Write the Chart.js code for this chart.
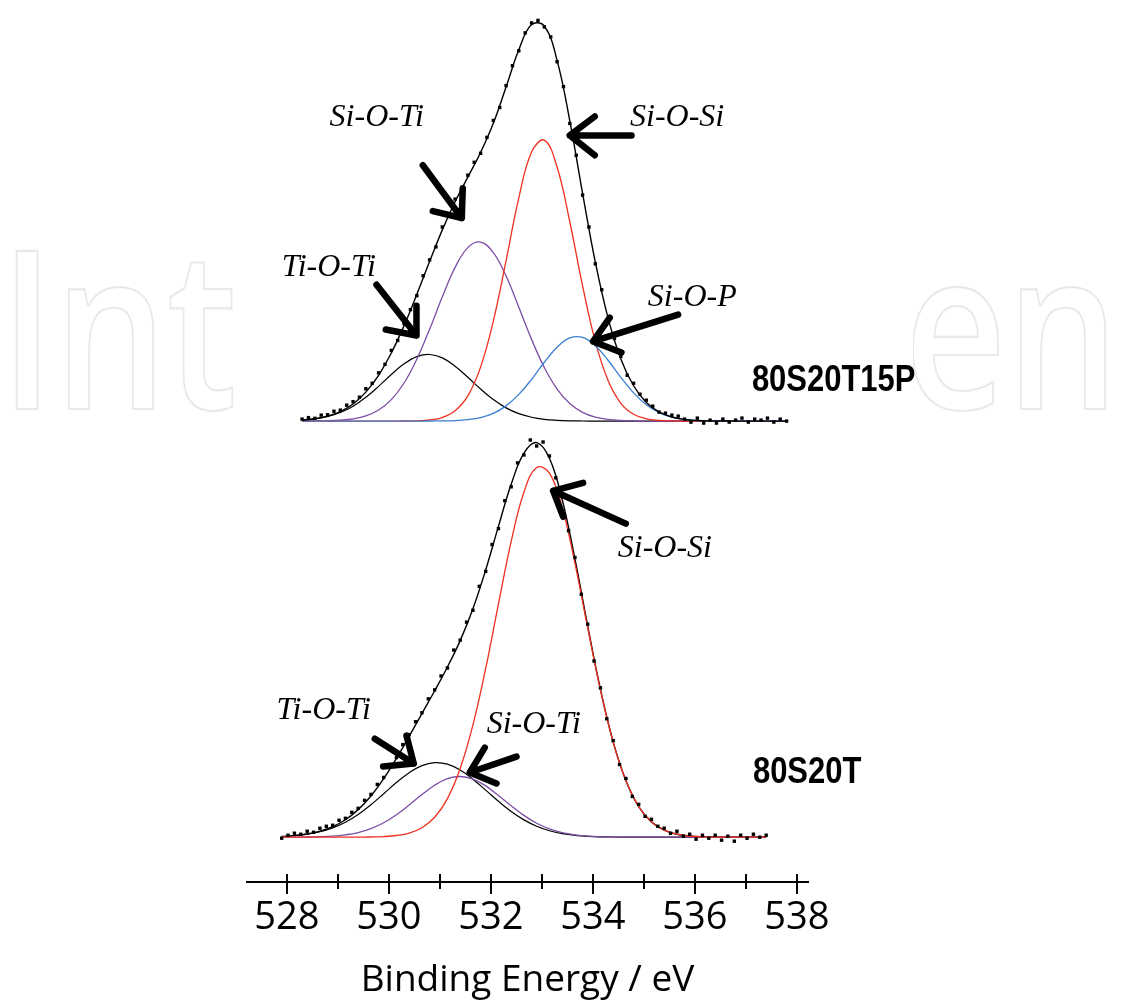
<!DOCTYPE html>
<html>
<head>
<meta charset="utf-8">
<script src="https://cdn.jsdelivr.net/npm/chart.js@4.4.1/dist/chart.umd.min.js"></script>
<style>
  html, body { margin: 0; background: #fff; }
  canvas { display: block; }
</style>
</head>
<body>
<canvas id="xps" width="1143" height="1004"></canvas>
<script>
// O 1s spectra, intensity in arbitrary units (each panel from its own baseline)
const energyTop = [528.30, 528.55, 528.80, 529.05, 529.30, 529.55, 529.80, 530.05, 530.30, 530.55,
  530.80, 531.05, 531.30, 531.55, 531.80, 532.05, 532.30, 532.55, 532.80, 533.05,
  533.30, 533.55, 533.80, 534.05, 534.30, 534.55, 534.80, 535.05, 535.30, 535.55,
  535.80, 536.05, 536.30, 536.55, 536.80, 537.05, 537.30, 537.55, 537.80];
const tiOTiTop = [1.0, 2.2, 4.6, 8.7, 15.0, 23.9, 34.9, 46.8, 57.5, 64.8,
  66.9, 63.5, 55.2, 44.0, 32.2, 21.6, 13.3, 7.5, 3.9, 1.8,
  0.8, 0.3, 0.1, 0, 0, 0, 0, 0, 0, 0, 0, 0, 0, 0, 0, 0, 0, 0, 0];
const siOTiTop = [0, 0.1, 0.3, 0.9, 2.2, 5.2, 11.1, 21.6, 38.3, 62.2,
  92.2, 124.8, 154.4, 174.3, 179.8, 169.3, 145.7, 114.4, 82.1, 53.8,
  32.2, 17.6, 8.8, 4.0, 1.7, 0.6, 0.2, 0, 0, 0, 0, 0, 0, 0, 0, 0, 0, 0, 0];
const siOSiTop = [0, 0, 0, 0, 0, 0, 0, 0, 0.1, 0.3,
  1.1, 3.6, 10.3, 25.3, 54.2, 100.4, 161.3, 224.3, 270.3, 282.2,
  255.2, 200.0, 135.8, 79.8, 40.7, 17.9, 6.9, 2.3, 0.7, 0.2,
  0, 0, 0, 0, 0, 0, 0, 0, 0];
const siOPTop = [0, 0, 0, 0, 0, 0, 0, 0, 0, 0,
  0.1, 0.2, 0.5, 1.5, 3.6, 7.8, 15.3, 26.8, 42.0, 59.1,
  74.2, 83.5, 84.1, 75.8, 61.1, 44.0, 28.4, 16.4, 8.5, 3.9,
  1.6, 0.6, 0.2, 0.1, 0, 0, 0, 0, 0];
const fitTop = [1.0, 2.3, 4.9, 9.6, 17.2, 29.1, 46.0, 68.4, 95.9, 127.3,
  160.3, 192.1, 220.4, 245.1, 269.8, 299.1, 335.6, 373.0, 398.3, 396.9,
  362.4, 301.4, 228.8, 159.6, 103.5, 62.5, 35.5, 18.7, 9.2, 4.1,
  1.6, 0.6, 0.2, 0.1, 0, 0, 0, 0, 0];
const measuredTopX = [528.300, 528.425, 528.550, 528.675, 528.800, 528.925, 529.050, 529.175, 529.300, 529.425,
  529.550, 529.675, 529.800, 529.925, 530.050, 530.175, 530.300, 530.425, 530.550, 530.675,
  530.800, 530.925, 531.050, 531.175, 531.300, 531.425, 531.550, 531.675, 531.800, 531.925,
  532.050, 532.175, 532.300, 532.425, 532.550, 532.675, 532.800, 532.925, 533.050, 533.175,
  533.300, 533.425, 533.550, 533.675, 533.800, 533.925, 534.050, 534.175, 534.300, 534.425,
  534.550, 534.675, 534.800, 534.925, 535.050, 535.175, 535.300, 535.425, 535.550, 535.675,
  535.800, 535.925, 536.050, 536.175, 536.300, 536.425, 536.550, 536.675, 536.800, 536.925,
  537.050, 537.175, 537.300, 537.425, 537.550, 537.675, 537.800];
const measuredTopY = [2, 3.5, 2.8, 6, 6.4, 9.9, 11, 16, 19.5, 24,
  32.5, 38, 48.5, 57, 71, 81, 98, 112, 126, 146,
  162, 175, 195, 207, 223, 232, 247, 260, 269, 285,
  302, 315, 337, 357, 372, 390, 400, 402.5, 396, 386,
  361, 336, 299, 267, 227, 195, 158, 132, 102, 83,
  65, 46, 38, 27, 21, 15, 9, 8, 6, 5,
  2, -1, 3, -2, 1, -2, 2, -1, 1, 3,
  -1, 2, 1, 3, -1, 2, 0];

const energyBot = [527.90, 528.15, 528.40, 528.65, 528.90, 529.15, 529.40, 529.65, 529.90, 530.15,
  530.40, 530.65, 530.90, 531.15, 531.40, 531.65, 531.90, 532.15, 532.40, 532.65,
  532.90, 533.15, 533.40, 533.65, 533.90, 534.15, 534.40, 534.65, 534.90, 535.15,
  535.40, 535.65, 535.90, 536.15, 536.40, 536.65, 536.90, 537.15, 537.40];
const tiOTiBot = [0.7, 1.5, 3.0, 5.5, 9.4, 15.1, 22.9, 32.6, 43.7, 54.9,
  64.8, 71.9, 74.9, 73.4, 67.5, 58.3, 47.3, 36.1, 25.8, 17.4,
  11.0, 6.5, 3.6, 1.9, 0.9, 0.4, 0.2, 0.1, 0, 0, 0, 0, 0, 0, 0, 0, 0, 0, 0];
const siOTiBot = [0, 0.1, 0.2, 0.5, 1.1, 2.4, 4.7, 8.6, 14.5, 22.6,
  32.4, 42.8, 52.2, 58.8, 61.0, 58.4, 51.6, 42.0, 31.6, 21.9,
  14.0, 8.3, 4.5, 2.3, 1.0, 0.4, 0.2, 0.1, 0, 0, 0, 0, 0, 0, 0, 0, 0, 0, 0];
const siOSiBot = [0, 0, 0, 0, 0, 0, 0.1, 0.2, 0.6, 1.7,
  4.1, 9.5, 20.0, 38.8, 69.0, 112.8, 169.5, 234.1, 297.1, 346.5,
  371.4, 365.8, 331.1, 275.3, 210.5, 147.9, 95.4, 56.6, 30.8, 15.4,
  7.1, 3.0, 1.2, 0.4, 0.1, 0, 0, 0, 0];
const fitBot = [0.7, 1.6, 3.2, 6.0, 10.5, 17.5, 27.7, 41.4, 58.8, 79.2,
  101.3, 124.2, 147.1, 171.0, 197.5, 229.5, 268.4, 312.2, 354.5, 385.8,
  396.4, 380.6, 339.2, 279.5, 212.4, 148.7, 95.8, 56.8, 30.8, 15.4,
  7.1, 3.0, 1.2, 0.4, 0.1, 0, 0, 0, 0];
const measuredBotX = [527.900, 528.025, 528.150, 528.275, 528.400, 528.525, 528.650, 528.775, 528.900, 529.025,
  529.150, 529.275, 529.400, 529.525, 529.650, 529.775, 529.900, 530.025, 530.150, 530.275,
  530.400, 530.525, 530.650, 530.775, 530.900, 531.025, 531.150, 531.275, 531.400, 531.525,
  531.650, 531.775, 531.900, 532.025, 532.150, 532.275, 532.400, 532.525, 532.650, 532.775,
  532.900, 533.025, 533.150, 533.275, 533.400, 533.525, 533.650, 533.775, 533.900, 534.025,
  534.150, 534.275, 534.400, 534.525, 534.650, 534.775, 534.900, 535.025, 535.150, 535.275,
  535.400, 535.525, 535.650, 535.775, 535.900, 536.025, 536.150, 536.275, 536.400, 536.525,
  536.650, 536.775, 536.900, 537.025, 537.150, 537.275, 537.400];
const measuredBotY = [-1, 2, 4, 3, 6, 5, 9, 11, 12, 17,
  19, 25, 29, 37, 43, 53, 60, 72, 80, 93,
  103, 116, 125, 139, 148, 162, 170, 188, 198, 216,
  228, 252, 267, 294, 310, 338, 352, 376, 384, 399,
  393, 397, 383, 361, 342, 308, 281, 244, 214, 177,
  150, 119, 97, 73, 59, 41, 33, 21, 18, 11,
  9, 4, 6, 1, 3, -2, 2, -1, 2, -3,
  1, -4, 2, -1, 3, 0, 2];

// vertical offset of the upper spectrum (80S20T15P) above the lower one
const topOffset = 418;

const axisTicks = [528, 529, 530, 531, 532, 533, 534, 535, 536, 537, 538];

// peak labels: text, energy, intensity (stacked scale)
const peakLabels = ["Si-O-Ti", "Si-O-Si", "Ti-O-Ti", "Si-O-P", "Si-O-Si", "Ti-O-Ti", "Si-O-Ti"];
const peakLabelE = [528.84, 534.73, 527.90, 535.08, 534.49, 527.80, 531.92];
const peakLabelI = [714, 714, 564, 534, 281, 119, 105];
// arrows: tail, tip, two head arms  (energy, intensity)
const arrowTail = [[530.667, 675], [529.759, 555], [534.759, 705], [535.673, 525], [534.647, 315], [529.725, 99], [532.504, 81]];
const arrowTip = [[531.431, 622], [530.543, 504], [533.549, 705], [534.006, 498], [533.222, 348], [530.490, 74], [531.588, 65]];
const arrowArmA = [[531.451, 652], [530.543, 534], [534.039, 724], [534.333, 522], [533.810, 356], [530.347, 102], [531.882, 90]];
const arrowArmB = [[530.863, 629], [529.941, 510], [534.039, 685], [534.562, 487], [533.418, 322], [529.889, 71], [532.112, 54]];

const sampleNames = ["80S20T15P", "80S20T"];
const sampleE = [537.12, 537.14];
const sampleI = [448, 54];

const RED = "#f0301e";
const PURPLE = "#7d4ea6";
const BLUE = "#3a7fcf";

function toPoints(xs, ys, shift) {
  return xs.map((x, i) => ({ x, y: ys[i] + shift }));
}

function lineSet(label, xs, ys, shift, color, width) {
  return {
    label,
    data: toPoints(xs, ys, shift),
    showLine: true,
    borderColor: color,
    borderWidth: width,
    pointRadius: 0,
    tension: 0.4,
    fill: false,
  };
}

function pointSet(label, xs, ys, shift) {
  return {
    label,
    data: toPoints(xs, ys, shift),
    showLine: false,
    pointStyle: "rect",
    pointRadius: 2.4,
    backgroundColor: "#000",
    borderColor: "#000",
    borderWidth: 0,
  };
}

const backgroundPlugin = {
  id: "paper",
  beforeDraw(chart) {
    const { ctx, width, height } = chart;
    ctx.save();
    ctx.fillStyle = "#fff";
    ctx.fillRect(0, 0, width, height);
    // faint publisher watermark, hidden behind the figure in the middle
    ctx.strokeStyle = "#e9e9e9";
    ctx.lineWidth = 2;
    ctx.font = "600 222px 'Open Sans'";
    ctx.textBaseline = "alphabetic";
    ctx.save();
    ctx.beginPath();
    ctx.rect(0, 0, 246, height);
    ctx.clip();
    ctx.translate(0, 409);
    ctx.scale(0.8, 1);
    ctx.lineWidth = 2.2;
    ctx.strokeText("Int", 0, 0);
    ctx.restore();
    ctx.save();
    ctx.beginPath();
    ctx.rect(913, 0, width - 913, height);
    ctx.clip();
    ctx.translate(904, 409);
    ctx.scale(0.8, 1);
    ctx.lineWidth = 2.2;
    ctx.strokeText("en", 0, 0);
    ctx.restore();
    ctx.restore();
  },
};

const tickPlugin = {
  id: "crossTicks",
  afterDraw(chart) {
    const { ctx } = chart;
    const sx = chart.scales.x;
    const y0 = sx.top;
    ctx.save();
    ctx.strokeStyle = "#000";
    ctx.lineWidth = 2;
    axisTicks.forEach((v) => {
      const x = Math.round(sx.getPixelForValue(v));
      ctx.beginPath();
      ctx.moveTo(x, y0 - 8);
      ctx.lineTo(x, y0 + (v % 2 === 0 ? 12 : 7));
      ctx.stroke();
    });
    ctx.restore();
  },
};

const annotationPlugin = {
  id: "peakNotes",
  afterDatasetsDraw(chart) {
    const { ctx } = chart;
    const sx = chart.scales.x;
    const sy = chart.scales.y;
    const px = (p) => [sx.getPixelForValue(p[0]), sy.getPixelForValue(p[1])];
    ctx.save();
    ctx.fillStyle = "#000";
    ctx.textBaseline = "alphabetic";
    ctx.textAlign = "left";
    ctx.font = "italic 32px 'Liberation Serif'";
    peakLabels.forEach((t, i) => {
      ctx.fillText(t, sx.getPixelForValue(peakLabelE[i]), sy.getPixelForValue(peakLabelI[i]));
    });

    ctx.strokeStyle = "#000";
    ctx.lineWidth = 6.5;
    ctx.lineCap = "round";
    ctx.lineJoin = "round";
    arrowTail.forEach((tail, i) => {
      const [tx, ty] = px(tail);
      const [hx, hy] = px(arrowTip[i]);
      const [ax, ay] = px(arrowArmA[i]);
      const [bx, by] = px(arrowArmB[i]);
      ctx.beginPath();
      ctx.moveTo(tx, ty);
      ctx.lineTo(hx, hy);
      ctx.moveTo(ax, ay);
      ctx.lineTo(hx, hy);
      ctx.lineTo(bx, by);
      ctx.stroke();
    });

    ctx.font = "bold 36px 'Liberation Sans'";
    sampleNames.forEach((t, i) => {
      ctx.save();
      ctx.translate(sx.getPixelForValue(sampleE[i]), sy.getPixelForValue(sampleI[i]));
      ctx.scale(0.86, 1);
      ctx.fillText(t, 0, 0);
      ctx.restore();
    });
    ctx.restore();
  },
};

new Chart(document.getElementById("xps"), {
  type: "scatter",
  data: {
    datasets: [
      pointSet("80S20T15P data", measuredTopX, measuredTopY, topOffset),
      lineSet("80S20T15P fit", energyTop, fitTop, topOffset, "#000", 1.4),
      lineSet("Si-O-P", energyTop, siOPTop, topOffset, BLUE, 1.3),
      lineSet("Si-O-Si", energyTop, siOSiTop, topOffset, RED, 1.3),
      lineSet("Si-O-Ti", energyTop, siOTiTop, topOffset, PURPLE, 1.3),
      lineSet("Ti-O-Ti", energyTop, tiOTiTop, topOffset, "#000", 1.2),
      pointSet("80S20T data", measuredBotX, measuredBotY, 0),
      lineSet("Si-O-Si", energyBot, siOSiBot, 0, RED, 1.3),
      lineSet("Si-O-Ti", energyBot, siOTiBot, 0, PURPLE, 1.3),
      lineSet("Ti-O-Ti", energyBot, tiOTiBot, 0, "#000", 1.2),
      lineSet("80S20T fit", energyBot, fitBot, 0, "#000", 1.4),
    ],
  },
  options: {
    responsive: false,
    animation: false,
    events: [],
    layout: { padding: { left: 247, right: 335, top: 0, bottom: 0 } },
    plugins: { legend: { display: false }, tooltip: { enabled: false } },
    scales: {
      x: {
        type: "linear",
        min: 527.22,
        max: 538.22,
        grid: { display: false, drawTicks: false },
        border: { display: true, color: "#000", width: 2 },
        afterFit(scale) { scale.height = 122; },
        ticks: {
          stepSize: 2,
          includeBounds: false,
          autoSkip: false,
          maxRotation: 0,
          padding: 13,
          color: "#000",
          font: { family: "'Open Sans'", size: 38 },
          callback: (v) => String(v),
        },
        title: {
          display: true,
          text: "Binding Energy / eV",
          color: "#000",
          font: { family: "'Open Sans'", size: 37 },
          padding: { top: 0, bottom: 1 },
        },
      },
      y: { display: false, min: -45, max: 837 },
    },
  },
  plugins: [backgroundPlugin, tickPlugin, annotationPlugin],
});
</script>
</body>
</html>
